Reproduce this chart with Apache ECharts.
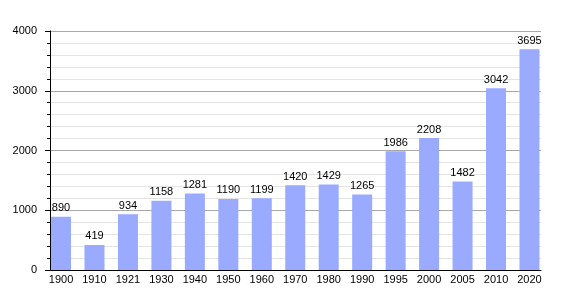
<!DOCTYPE html>
<html><head><meta charset="utf-8">
<script src="https://cdn.jsdelivr.net/npm/echarts@6/dist/echarts.min.js"></script>
<style>html,body{margin:0;padding:0;background:#fff}#c{width:570px;height:300px}</style>
</head><body><div id="c"></div>
<script>
var years = ['1900','1910','1921','1930','1940','1950','1960','1970','1980','1990','1995','2000','2005','2010','2020'];
var population = [890,419,934,1158,1281,1190,1199,1420,1429,1265,1986,2208,1482,3042,3695];
var yMax = 4000, yStep = 1000;

var chart = echarts.init(document.getElementById('c'), null, {renderer:'canvas'});
var font = 'Liberation Sans, Arial, sans-serif';
chart.setOption({
  animation:false,
  backgroundColor:'#fff',
  grid:[
    {left:50, right:29, top:31, bottom:30},
    {left:44.3, right:23.8, top:31, bottom:30}
  ],
  xAxis:[
    {type:'category', gridIndex:0, data:years, boundaryGap:true,
     axisLine:{show:true, lineStyle:{color:'#000', width:1}}, axisTick:{show:false}, axisLabel:{show:false}, splitLine:{show:false}},
    {type:'category', gridIndex:1, data:years, boundaryGap:true,
     axisLine:{show:false}, axisTick:{show:false},
     axisLabel:{show:true, color:'#000', fontSize:11, fontFamily:font, margin:4, interval:0}}
  ],
  yAxis:[
    {type:'value', gridIndex:0, min:0, max:yMax, interval:yStep,
     axisLine:{show:true, lineStyle:{color:'#000', width:1}},
     axisTick:{show:true, length:5, lineStyle:{color:'#000'}},
     minorTick:{show:true, splitNumber:5, length:3, lineStyle:{color:'#000'}},
     axisLabel:{color:'#000', fontSize:11, fontFamily:font, margin:13, formatter:function(v){return String(v);}},
     splitLine:{show:true, lineStyle:{color:'#a8a8a8', width:1}},
     minorSplitLine:{show:true, lineStyle:{color:'#e4e4e4', width:1}}},
    {type:'value', gridIndex:1, min:0, max:yMax, interval:yStep, show:false}
  ],
  series:[{
    type:'bar', xAxisIndex:1, yAxisIndex:1, data:population, barWidth:20,
    itemStyle:{color:'#99aaff'},
    label:{show:true, position:'top', distance:3, color:'#000', fontSize:11, fontFamily:font}
  }]
});
</script></body></html>
